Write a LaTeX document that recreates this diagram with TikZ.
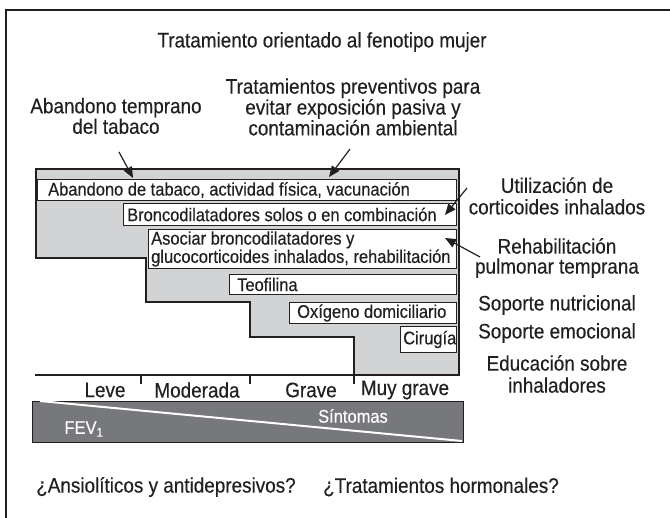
\documentclass[tikz,border=0pt]{standalone}
\usepackage{fontspec}
\setmainfont{Liberation Sans}[FakeStretch=0.9,FakeBold=0.35]
\usetikzlibrary{arrows.meta}
\definecolor{ink}{HTML}{231F20}
\definecolor{lgray}{HTML}{D1D3D4}
\definecolor{dgray}{HTML}{77787B}
\begin{document}
\begin{tikzpicture}[x=1pt,y=-1pt,
  big/.style={font=\fontsize{21}{20}\selectfont, text=ink, inner sep=0pt, align=center},
  small/.style={font=\fontsize{18.3}{16.7}\selectfont, text=ink, inner sep=0pt, anchor=west, align=left},
  bx/.style={draw=ink, fill=white, line width=1pt, inner sep=0pt, anchor=north west},
  arr/.style={draw=ink, line width=1.2pt, -{Triangle[length=11pt,width=9pt]}},
  stair/.style={draw=ink, fill=lgray, line width=1.1pt},
  axisline/.style={draw=ink, line width=1.1pt},
]
\useasboundingbox (0,0) rectangle (670,518);
% frame (only top and left edges visible)
\draw[ink, line width=1.6pt] (6,540) -- (6,10) -- (690,10);

% title and top labels
\node[big] (title) at (322,42) {Tratamiento orientado al fenotipo mujer};
\node[big, font=\fontsize{21}{19}\selectfont] (prev) at (353,107) {Tratamientos preventivos para\\evitar exposición pasiva y\\contaminación ambiental};
\node[big, font=\fontsize{21}{18.5}\selectfont] (aband) at (116,116) {Abandono temprano\\del tabaco};

% staircase
\draw[stair] (36,169) -- (459,169) -- (459,375) -- (354,375) -- (354,337) -- (250,337)
  -- (250,302) -- (146,302) -- (146,258) -- (36,258) -- cycle;

% boxes
\node[bx, minimum width=419pt, minimum height=21pt] (b1) at (37,179) {};
\node[small] (t1) at ([xshift=11pt]b1.west) {Abandono de tabaco, actividad física, vacunación};
\node[bx, minimum width=333pt, minimum height=22pt] (b2) at (123,203) {};
\node[small] (t2) at ([xshift=4pt]b2.west) {Broncodilatadores solos o en combinación};
\node[bx, minimum width=308pt, minimum height=39pt] (b3) at (148,229) {};
\node[small] (t3) at ([xshift=3pt]b3.west) {Asociar broncodilatadores y\\glucocorticoides inhalados, rehabilitación};
\node[bx, minimum width=227pt, minimum height=20pt] (b4) at (229,274) {};
\node[small] (t4) at ([xshift=8pt]b4.west) {Teofilina};
\node[bx, minimum width=167pt, minimum height=21pt] (b5) at (289,302) {};
\node[small] (t5) at ([xshift=8pt]b5.west) {Oxígeno domiciliario};
\node[bx, minimum width=56pt, minimum height=26pt] (b6) at (400,326) {};
\node[small] (t6) at ([xshift=3pt]b6.west) {Cirugía};

% right labels
\node[big, font=\fontsize{21}{21.5}\selectfont] (util) at (557,196) {Utilización de\\corticoides inhalados};
\node[big, font=\fontsize{21}{20}\selectfont] (rehab) at (557,258) {Rehabilitación\\pulmonar temprana};
\node[big] (nutr) at (557,305) {Soporte nutricional};
\node[big] (emoc) at (557,333) {Soporte emocional};
\node[big, font=\fontsize{21}{22}\selectfont] (educ) at (557,374) {Educación sobre\\inhaladores};

% arrows
\coordinate (a1s) at (119,152); \coordinate (a1e) at (133,178);
\coordinate (a2s) at (350,149); \coordinate (a2e) at (329,177);
\coordinate (a3s) at (467,188); \coordinate (a3e) at (445,215);
\coordinate (a4s) at (480,257); \coordinate (a4e) at (445,238);
\draw[arr] (a1s) -- (a1e);
\draw[arr] (a2s) -- (a2e);
\draw[arr] (a3s) -- (a3e);
\draw[arr] (a4s) -- (a4e);

% severity axis
\draw[axisline] (35,375) -- (459,375);
\draw[axisline] (141,375) -- (141,384);
\draw[axisline] (250,375) -- (250,384);
\draw[axisline] (354,375) -- (354,384);
\node[big] (leve) at (105,390) {Leve};
\node[big] (mod) at (197,390) {Moderada};
\node[big] (grave) at (311,390) {Grave};
\node[big] (mgrave) at (405,390) {Muy grave};

% FEV1 / symptoms band
\fill[dgray] (32,401) rectangle (463,442);
\draw[ink, line width=0.8pt] (32,401) rectangle (463,442);
\draw[white, line width=2pt] (40,401) -- (462,441);
\node[small, text=white, anchor=center] (fev) at (84,429) {FEV\textsubscript{1}};
\node[small, text=white, anchor=center] (sint) at (353,416) {Síntomas};

% bottom questions
\node[big] (ansio) at (166,487) {¿Ansiolíticos y antidepresivos?};
\node[big] (horm) at (441,487) {¿Tratamientos hormonales?};
\end{tikzpicture}
\end{document}
